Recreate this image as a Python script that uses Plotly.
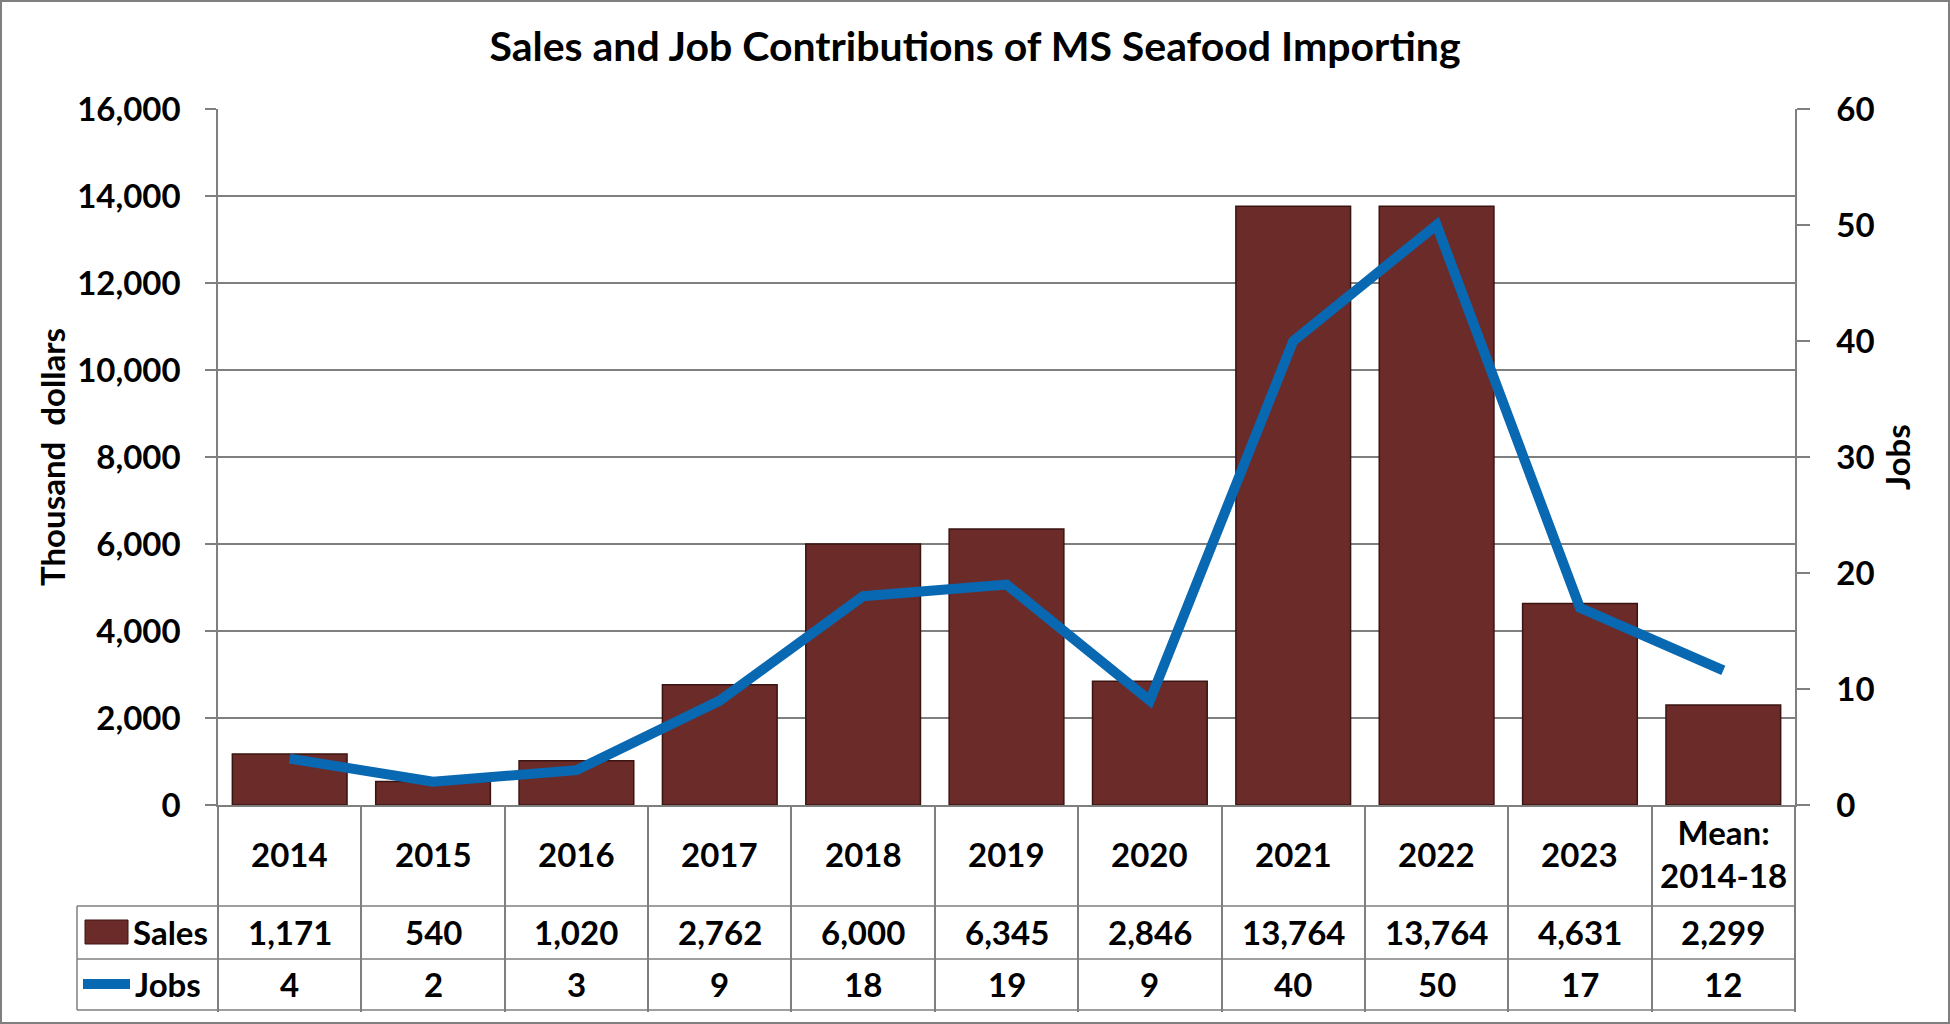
import plotly.graph_objects as go

# chart data
categories = ["2014", "2015", "2016", "2017", "2018", "2019", "2020", "2021", "2022", "2023", "Mean"]
category_labels = ["2014", "2015", "2016", "2017", "2018", "2019", "2020", "2021", "2022", "2023", "Mean:<br>2014-18"]
sales = [1171, 540, 1020, 2762, 6000, 6345, 2846, 13764, 13764, 4631, 2299]
jobs = [4, 2, 3, 9, 18, 19, 9, 40, 50, 17, 11.6]
jobs_labels = ["4", "2", "3", "9", "18", "19", "9", "40", "50", "17", "12"]

W, H = 1950, 1024
# plot area in window pixels
PL, PR, PT, PB = 218, 1795, 109, 805
TABLE_LEFT = 77
ROW_LINES = [906, 959, 1010]

BAR_COLOR = "#6B2B29"
LINE_COLOR = "#0868B2"
GRID = "#7f7f7f"
FONT = "Lato"


def px_x(x):
    return (x - PL) / (PR - PL)


def px_y(y):
    return (PB - y) / (PB - PT)


fig = go.Figure()

fig.add_trace(go.Bar(x=categories, y=sales, name="Sales", width=0.8,
                     marker=dict(color=BAR_COLOR, line=dict(color="#3a1412", width=1.5)),
                     yaxis="y"))
fig.add_trace(go.Scatter(x=categories, y=jobs, name="Jobs", mode="lines",
                         line=dict(color=LINE_COLOR, width=10), yaxis="y2"))

shapes = []
# horizontal lines of the data table
for yy in ROW_LINES:
    shapes.append(dict(type="line", xref="paper", yref="paper",
                       x0=px_x(TABLE_LEFT), x1=1, y0=px_y(yy), y1=px_y(yy),
                       line=dict(color=GRID, width=1.5)))
shapes.append(dict(type="line", xref="paper", yref="paper",
                   x0=px_x(TABLE_LEFT), x1=px_x(TABLE_LEFT), y0=px_y(ROW_LINES[0]), y1=px_y(ROW_LINES[2]),
                   line=dict(color=GRID, width=1.5)))
# legend keys inside the table
shapes.append(dict(type="rect", xref="paper", yref="paper",
                   x0=px_x(85), x1=px_x(128), y0=px_y(920), y1=px_y(944),
                   fillcolor=BAR_COLOR, line=dict(color="#3a1412", width=1)))
shapes.append(dict(type="line", xref="paper", yref="paper",
                   x0=px_x(83), x1=px_x(130), y0=px_y(984), y1=px_y(984),
                   line=dict(color=LINE_COLOR, width=10)))
# outer frame
shapes.append(dict(type="rect", xref="paper", yref="paper",
                   x0=px_x(1), x1=px_x(W - 1), y0=px_y(1), y1=px_y(H - 1),
                   line=dict(color=GRID, width=2)))

annotations = []
cell_font = dict(family=FONT, size=33, color="black", weight="bold")
for i, (lab, s, j) in enumerate(zip(category_labels, sales, jobs_labels)):
    annotations.append(dict(x=i, xref="x", y=px_y((PB + ROW_LINES[0]) / 2 - 2), yref="paper",
                            yanchor="middle", text=lab, showarrow=False, font=cell_font, align="center"))
    annotations.append(dict(x=i, xref="x", y=px_y((ROW_LINES[0] + ROW_LINES[1]) / 2), yref="paper",
                            yanchor="middle", text=f"{s:,}", showarrow=False, font=cell_font))
    annotations.append(dict(x=i, xref="x", y=px_y((ROW_LINES[1] + ROW_LINES[2]) / 2), yref="paper",
                            yanchor="middle", text=j, showarrow=False, font=cell_font))

annotations.append(dict(x=px_x(131), xref="paper", y=px_y(932), yref="paper", xanchor="left",
                        yanchor="middle", text="Sales", showarrow=False, font=cell_font))
annotations.append(dict(x=px_x(133), xref="paper", y=px_y(984), yref="paper", xanchor="left",
                        yanchor="middle", text="Jobs", showarrow=False, font=cell_font))
annotations.append(dict(x=px_x(52), xref="paper", y=0.5, yref="paper", textangle=-90,
                        xanchor="center", yanchor="middle",
                        text="Thousand\u00a0 dollars", showarrow=False, font=cell_font))
annotations.append(dict(x=px_x(1897), xref="paper", y=0.5, yref="paper", textangle=-90,
                        xanchor="center", yanchor="middle",
                        text="Jobs", showarrow=False, font=cell_font))

tick_font = dict(family=FONT, size=33, color="black", weight="bold")

fig.update_layout(
    width=W, height=H,
    margin=dict(l=PL, r=W - PR, t=PT, b=H - PB),
    paper_bgcolor="white", plot_bgcolor="white",
    showlegend=False,
    title=dict(text="Sales and Job Contributions of MS Seafood Importing",
               x=0.5, xanchor="center", y=1 - 47 / H, yanchor="middle",
               font=dict(family=FONT, size=41, color="black", weight="bold")),
    xaxis=dict(type="category", range=[-0.5, len(categories) - 0.5], showticklabels=False,
               showline=True, linecolor=GRID, linewidth=1.5,
               ticks="outside", tickson="boundaries", ticklen=ROW_LINES[2] - PB,
               tickcolor=GRID, tickwidth=1.5, showgrid=False),
    yaxis=dict(range=[0, 16000], dtick=2000, tickformat=",", showline=True, linecolor=GRID,
               linewidth=1.5, ticks="outside", ticklen=11, tickcolor=GRID, tickwidth=1.5,
               gridcolor=GRID, gridwidth=1.5, tickfont=tick_font, ticklabelstandoff=18,
               zeroline=False),
    yaxis2=dict(range=[0, 60], dtick=10, overlaying="y", side="right", showline=True,
                linecolor=GRID, linewidth=1.5, ticks="outside", ticklen=13, tickcolor=GRID,
                tickwidth=1.5, showgrid=False, tickfont=tick_font, ticklabelstandoff=20,
                zeroline=False),
    shapes=shapes,
    annotations=annotations,
)

# drop the default page margin so the figure fills the window exactly
page_css = ("document.body.style.margin='0';"
            "document.body.style.overflow='hidden';"
            "document.documentElement.style.overflow='hidden';")
fig.write_html("out.html", post_script=page_css, config={"displayModeBar": False})
